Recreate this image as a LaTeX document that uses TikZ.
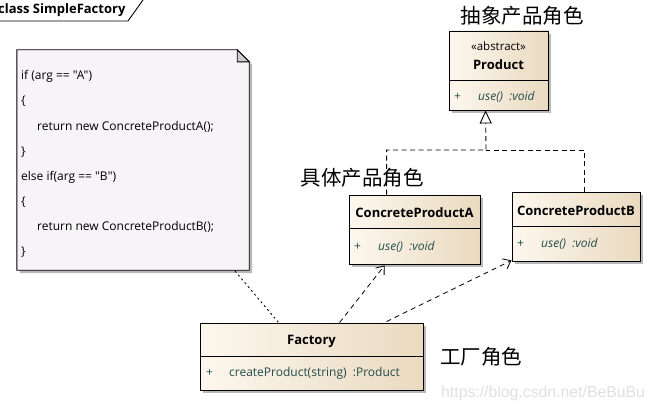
\documentclass[tikz,border=0pt]{standalone}
\usepackage{fontspec}
\setmainfont{Open Sans}[Ligatures=TeXOff]
\newfontfamily\cjk{Noto Sans CJK SC}
\newfontfamily\wmfont{Liberation Sans}
\usetikzlibrary{arrows.meta,calc,shadows}
\definecolor{boxL}{RGB}{252,247,238}
\definecolor{boxR}{RGB}{234,218,192}
\definecolor{opcol}{RGB}{35,75,75}
\definecolor{notefill}{RGB}{246,244,246}
\definecolor{shadowgray}{RGB}{185,185,185}
\definecolor{foldgray}{RGB}{205,205,205}
\begin{document}
\begin{tikzpicture}[x=1pt,y=-1pt,
  classbox/.style={draw=black, line width=0.9pt, left color=boxL, right color=boxR,
    inner sep=0pt, rectangle,
    drop shadow={shadow xshift=3pt, shadow yshift=-3pt, fill=shadowgray, opacity=1}},
  divider/.style={draw=black, line width=0.9pt},
  titletext/.style={font=\bfseries\fontsize{13}{15}\selectfont, inner sep=0pt},
  stereo/.style={font=\fontsize{11.5}{13}\selectfont, inner sep=0pt},
  optext/.style={font=\itshape\fontsize{12}{14}\selectfont, text=opcol, inner sep=0pt, anchor=west},
  opplain/.style={font=\fontsize{12}{14}\selectfont, text=opcol, inner sep=0pt, anchor=west},
  notetext/.style={font=\fontsize{12}{14}\selectfont, inner sep=0pt, anchor=west},
  cjklabel/.style={font=\cjk\fontsize{20.5}{22}\selectfont, inner sep=0pt},
  dashline/.style={line width=0.9pt, dash pattern=on 5pt off 3.5pt},
  realize/.style={dashline, -{Triangle[open, length=13pt, width=12pt, line width=0.9pt]}},
  dep/.style={line width=0.8pt, dash pattern=on 5pt off 4pt, -{Straight Barb[length=7pt, width=11pt, line width=0.8pt]}},
  notelink/.style={line width=0.9pt, dash pattern=on 2pt off 3pt}
]
\useasboundingbox (0,0) rectangle (655,412);

% frame tab
\draw[line width=0.9pt] (-2,21) -- (128,21) -- (143,0);
\node[titletext, anchor=west] (frametitle) at (-2,10) {class SimpleFactory};

% note
\node[inner sep=0pt, minimum width=232pt, minimum height=220pt] (note) at (133,160) {};
\fill[shadowgray] ($(note.north east)+(3,15)$) -- ($(note.south east)+(3,3)$) -- ($(note.south west)+(3,3)$) -- ($(note.south west)+(3,0)$) -- (note.south east) -- ($(note.north east)+(0,12)$) -- cycle;
\draw[line width=0.9pt, fill=notefill] (note.north west) -- ($(note.north east)+(-12,0)$) -- ($(note.north east)+(0,12)$) -- (note.south east) -- (note.south west) -- cycle;
\draw[line width=0.9pt, fill=foldgray] ($(note.north east)+(-12,0)$) -- ($(note.north east)+(0,12)$) -- ($(note.north east)+(-12,12)$) -- cycle;
\node[notetext] (n1) at (21,76) {if (arg == "A")};
\node[notetext] (n2) at (21,101) {\{};
\node[notetext] (n3) at (37,127) {return new ConcreteProductA();};
\node[notetext] (n4) at (21,152) {\}};
\node[notetext] (n5) at (21,177) {else if(arg == "B")};
\node[notetext] (n6) at (21,202) {\{};
\node[notetext] (n7) at (37,227) {return new ConcreteProductB();};
\node[notetext] (n8) at (21,252) {\}};
\coordinate (notebot) at (235,271);

% Product
\node[classbox, minimum width=99pt, minimum height=79pt] (prod) at (498.5,70.5) {};
\draw[divider] (449,80) -- (548,80);
\node[stereo] (prodst) at (498.5,46) {«abstract»};
\node[titletext] (prodt) at (498.5,65) {Product};
\node[opplain] (prodp) at (454,97) {+};
\node[optext] (prodop) at (478,97) {use()\ \ :void};

% ConcreteProductA
\node[classbox, minimum width=131pt, minimum height=69pt] (cpa) at (414.5,229.5) {};
\draw[divider] (349,228) -- (480,228);
\node[titletext] (cpat) at (414.5,213) {ConcreteProductA};
\node[opplain] (cpap) at (354,247) {+};
\node[optext] (cpaop) at (378,247) {use()\ \ :void};

% ConcreteProductB
\node[classbox, minimum width=128pt, minimum height=69pt] (cpb) at (576,226.5) {};
\draw[divider] (512,226) -- (640,226);
\node[titletext] (cpbt) at (576,211) {ConcreteProductB};
\node[opplain] (cpbp) at (517,244) {+};
\node[optext] (cpbop) at (541,244) {use()\ \ :void};

% Factory
\node[classbox, minimum width=223pt, minimum height=67pt] (fac) at (311.5,356.5) {};
\draw[divider] (200,356) -- (423,356);
\node[titletext] (fact) at (311.5,341) {Factory};
\node[opplain] (facp) at (206,373) {+};
\node[opplain] (facop) at (229,373) {createProduct(string)\ \ :Product};

% labels
\node[cjklabel] (lblprod) at (522,16) {抽象产品角色};
\node[cjklabel] (lblcon) at (362,178) {具体产品角色};
\node[cjklabel] (lblfac) at (481,357) {工厂角色};
\node[font=\wmfont\fontsize{15.8}{17}\selectfont, text=black!12, inner sep=0pt, anchor=west] (wm) at (441,393) {https://blog.csdn.net/BeBuBu};

% connectors
\coordinate (junc) at (486,150);
\draw[realize] ($(cpa.north west)+(38,0)$) |- (junc) -- ($(prod.south west)+(37,0)$);
\draw[dashline] ($(cpb.north west)+(73,0)$) |- (junc);
\draw[dep] ($(fac.north west)+(140,0)$) -- ($(cpa.south west)+(36,1)$);
\draw[dep] ($(fac.north west)+(187,-1)$) -- ($(cpb.south west)+(0,-1)$);
\draw[notelink] (notebot) -- ($(fac.north west)+(79,0)$);
\end{tikzpicture}
\end{document}
